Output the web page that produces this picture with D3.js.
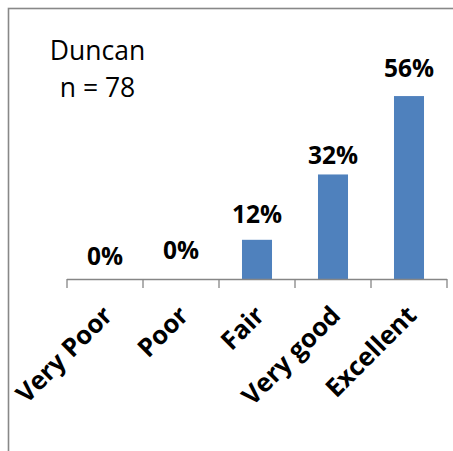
<!DOCTYPE html>
<html>
<head>
<meta charset="utf-8">
<script src="https://cdn.jsdelivr.net/npm/d3@7"></script>
<style>
  html, body { margin: 0; padding: 0; background: #fff; }
  svg { display: block; }
</style>
</head>
<body>
<svg id="chart" width="453" height="451"></svg>
<script>
// ---- data ----
const categories = ["Very Poor", "Poor", "Fair", "Very good", "Excellent"];
const values = [0, 0, 12, 32, 56];            // percent
const valueLabels = ["0%", "0%", "12%", "32%", "56%"];
const titleLines = ["Duncan", "n = 78"];
// ---- style / layout ----
const labelLift = [14, 20, 17, 10, 19];       // px gap of each value label above its bar

const svg = d3.select("#chart");
const W = 453, H = 451;
const plot = { left: 67, right: 447, top: 83, bottom: 279 };
const axisColor = "#868686";
const barColor = "#4F81BD";

// frame (clipped by the viewport on right/bottom)
svg.append("rect")
  .attr("x", 8.5).attr("y", 8.5)
  .attr("width", W + 20).attr("height", H + 20)
  .attr("fill", "none")
  .attr("stroke", "#888")
  .attr("stroke-width", 1.6);

const x = d3.scaleBand()
  .domain(categories)
  .range([plot.left, plot.right])
  .paddingInner(0.605)
  .paddingOuter(0.3025);

const y = d3.scaleLinear()
  .domain([0, 60])
  .range([plot.bottom, plot.top]);

// bars
svg.append("g").selectAll("rect")
  .data(categories)
  .join("rect")
  .attr("x", d => x(d))
  .attr("width", x.bandwidth())
  .attr("y", (d, i) => y(values[i]))
  .attr("height", (d, i) => y(0) - y(values[i]))
  .attr("fill", barColor);

// value labels
svg.append("g").selectAll("text")
  .data(categories)
  .join("text")
  .attr("x", d => x(d) + x.bandwidth() / 2)
  .attr("y", (d, i) => y(values[i]) - labelLift[i])
  .attr("text-anchor", "middle")
  .attr("font-family", "'Open Sans', sans-serif")
  .attr("font-weight", "bold")
  .attr("font-size", 24.5)
  .attr("fill", "#000")
  .text((d, i) => valueLabels[i]);

// x axis: line + boundary ticks
const step = x.step();
const axisG = svg.append("g")
  .attr("transform", `translate(0,${plot.bottom})`);
const axis = d3.axisBottom(x).tickSize(0).tickFormat("");
axisG.call(axis);
axisG.select(".domain").attr("stroke", axisColor).attr("stroke-width", 1.3)
  .attr("d", `M${plot.left},0.5H${plot.right}`);
const boundaries = d3.range(categories.length + 1).map(i => plot.left + i * step);
axisG.selectAll("line.bt")
  .data(boundaries)
  .join("line")
  .attr("class", "bt")
  .attr("x1", d => d).attr("x2", d => d)
  .attr("y1", 0).attr("y2", 9)
  .attr("stroke", axisColor)
  .attr("stroke-width", 1.3);

// rotated category labels
svg.append("g").selectAll("text")
  .data(categories)
  .join("text")
  .attr("transform", d => `translate(${x(d) + x.bandwidth() / 2 + 9},317) rotate(-45)`)
  .attr("text-anchor", "end")
  .attr("font-family", "'Open Sans', sans-serif")
  .attr("font-weight", "bold")
  .attr("font-size", 25.5)
  .attr("fill", "#000")
  .text(d => d);

// title text
svg.append("g").selectAll("text")
  .data(titleLines)
  .join("text")
  .attr("x", 97.5)
  .attr("y", (d, i) => 60 + i * 37)
  .attr("text-anchor", "middle")
  .attr("font-family", "'Open Sans', sans-serif")
  .attr("font-size", 26.5)
  .attr("fill", "#000")
  .text(d => d);
</script>
</body>
</html>
